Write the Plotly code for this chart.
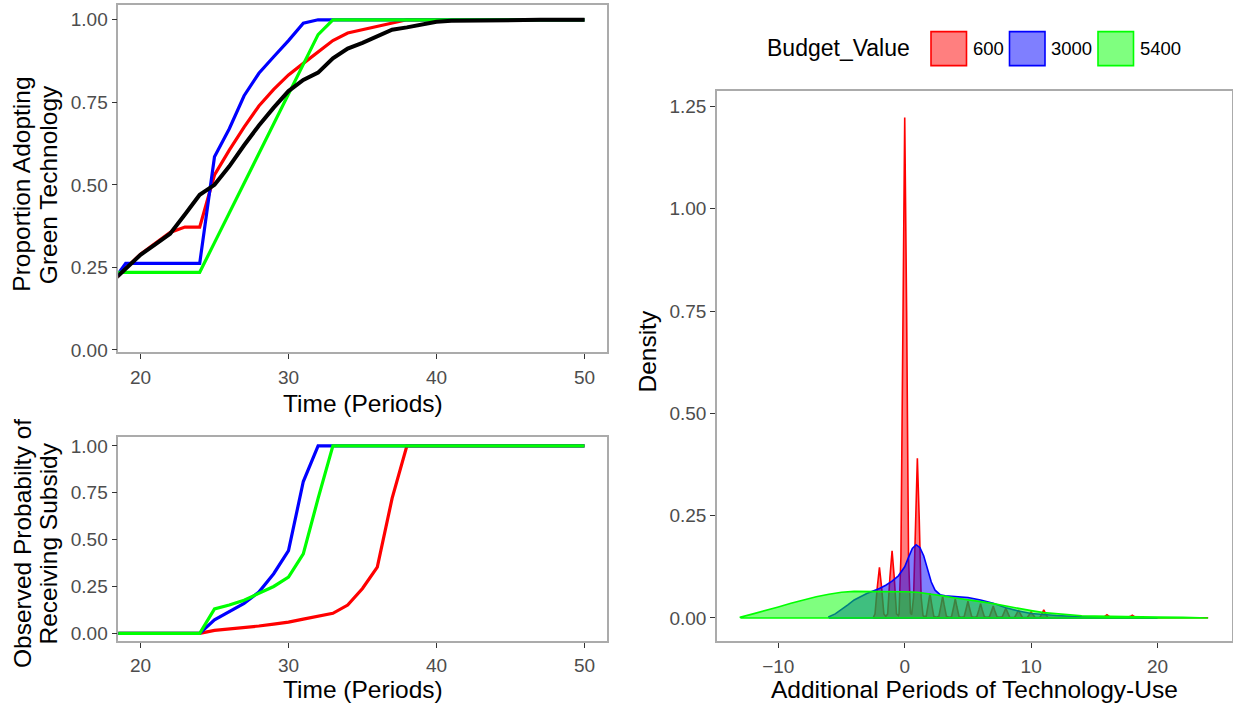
import plotly.graph_objects as go

W, H = 1233, 713

# ---------------- data ----------------
periods = list(range(18, 51))

adopt_all = [0.204, 0.246, 0.288, 0.32, 0.352, 0.41, 0.47, 0.50, 0.556, 0.62, 0.68,
             0.734, 0.784, 0.818, 0.84, 0.883, 0.913, 0.93, 0.95, 0.97, 0.977, 0.987,
             0.994, 0.997, 0.998, 0.999, 0.999, 1, 1, 1, 1, 1, 1]
adopt_600 = [0.204, 0.246, 0.29, 0.323, 0.356, 0.372, 0.372, 0.53, 0.605, 0.675, 0.739,
             0.789, 0.833, 0.868, 0.903, 0.937, 0.96, 0.97, 0.982, 0.992, 1, 1,
             1, 1, 1, 1, 1, 1, 1, 1, 1, 1, 1]
adopt_3000 = [0.20, 0.262, 0.262, 0.262, 0.262, 0.262, 0.262, 0.585, 0.67, 0.77, 0.838,
              0.888, 0.937, 0.99, 1, 1, 1, 1, 1, 1, 1, 1,
              1, 1, 1, 1, 1, 1, 1, 1, 1, 1, 1]
adopt_5400 = [0.235, 0.235, 0.235, 0.235, 0.235, 0.235, 0.235, 0.325, 0.415, 0.505, 0.595,
              0.685, 0.775, 0.865, 0.955, 1, 1, 1, 1, 1, 1, 1,
              1, 1, 1, 1, 1, 1, 1, 1, 1, 1, 1]

subsidy_600 = [0, 0, 0, 0, 0, 0, 0, 0.016, 0.023, 0.03, 0.039,
               0.049, 0.06, 0.076, 0.09, 0.107, 0.151, 0.239, 0.353, 0.72, 1, 1,
               1, 1, 1, 1, 1, 1, 1, 1, 1, 1, 1]
subsidy_3000 = [0, 0, 0, 0, 0, 0, 0, 0.072, 0.116, 0.16, 0.22,
                0.318, 0.441, 0.81, 1, 1, 1, 1, 1, 1, 1, 1,
                1, 1, 1, 1, 1, 1, 1, 1, 1, 1, 1]
subsidy_5400 = [0, 0, 0, 0, 0, 0, 0, 0.13, 0.151, 0.177, 0.213,
                0.25, 0.30, 0.424, 0.72, 1, 1, 1, 1, 1, 1, 1,
                1, 1, 1, 1, 1, 1, 1, 1, 1, 1, 1]

budget_levels = ["600", "3000", "5400"]

dens_600_x = [-2.5, -2.35, -2.17, -2.0, -1.83, -1.65, -1.5,
              -1.35, -1.17, -1.0, -0.83, -0.65, -0.5,
              -0.45, -0.3, -0.15, 0.0, 0.15, 0.3, 0.45, 0.5,
              0.55, 0.7, 0.85, 1.0, 1.15, 1.3, 1.45, 1.5,
              1.7, 1.88, 2.0, 2.12, 2.3, 2.5,
              2.7, 2.88, 3.0, 3.12, 3.3, 3.5,
              3.7, 3.88, 4.0, 4.12, 4.3, 4.5,
              4.7, 4.88, 5.0, 5.12, 5.3, 5.5,
              5.7, 5.88, 6.0, 6.12, 6.3, 6.5,
              6.7, 6.88, 7.0, 7.12, 7.3, 7.5,
              7.7, 7.88, 8.0, 8.12, 8.3, 8.5,
              8.7, 8.88, 9.0, 9.12, 9.3, 9.5,
              9.7, 9.88, 10.0, 10.12, 10.3, 10.5,
              10.7, 10.88, 11.0, 11.12, 11.3, 11.5,
              13.0, 15.5, 15.75, 15.88, 16.0, 16.12, 16.3,
              17.5, 17.75, 17.88, 18.0, 18.12, 18.3, 21.0, 24.0]
dens_600_y = [0.0, 0.01, 0.075, 0.124, 0.075, 0.01, 0.004,
              0.01, 0.1, 0.164, 0.1, 0.01, 0.006,
              0.01, 0.15, 0.75, 1.223, 0.75, 0.15, 0.012, 0.008,
              0.008, 0.05, 0.24, 0.39, 0.24, 0.05, 0.006, 0.004,
              0.004, 0.036, 0.06, 0.036, 0.004, 0.002,
              0.004, 0.032, 0.053, 0.032, 0.004, 0.002,
              0.003, 0.028, 0.047, 0.028, 0.003, 0.002,
              0.003, 0.025, 0.041, 0.025, 0.003, 0.002,
              0.003, 0.021, 0.035, 0.021, 0.003, 0.002,
              0.003, 0.018, 0.029, 0.018, 0.003, 0.002,
              0.002, 0.015, 0.024, 0.015, 0.002, 0.001,
              0.002, 0.012, 0.019, 0.012, 0.002, 0.001,
              0.002, 0.009, 0.015, 0.009, 0.002, 0.001,
              0.002, 0.012, 0.02, 0.012, 0.002, 0.001,
              0.001, 0.001, 0.002, 0.005, 0.008, 0.005, 0.001,
              0.001, 0.002, 0.004, 0.007, 0.004, 0.001, 0.0005, 0.0005]

dens_3000_x = [-6, -5.5, -5, -4.5, -4, -3.5, -3, -2.5, -2, -1.5, -1, -0.5, 0, 0.3, 0.6,
               0.9, 1.2, 1.5, 1.8, 2.1, 2.4, 2.8, 3.2, 4, 5, 6, 7, 8, 9, 10, 11, 12,
               14, 16, 18, 20]
dens_3000_y = [0.003, 0.01, 0.02, 0.032, 0.044, 0.053, 0.06, 0.066, 0.072, 0.08, 0.09,
               0.103, 0.125, 0.148, 0.17, 0.179, 0.172, 0.152, 0.118, 0.088, 0.068,
               0.057, 0.054, 0.053, 0.05, 0.044, 0.036, 0.025, 0.017, 0.011, 0.008,
               0.006, 0.003, 0.002, 0.001, 0.0005]

dens_5400_x = [-13, -12, -11, -10, -9, -8, -7, -6, -5, -4, -3, -2, -1, 0, 1, 2, 3, 4, 5,
               6, 7, 8, 9, 10, 11, 12, 13, 14, 15, 16, 18, 20, 22, 24]
dens_5400_y = [0.002, 0.01, 0.018, 0.027, 0.036, 0.044, 0.052, 0.058, 0.063, 0.065,
               0.065, 0.064, 0.064, 0.064, 0.063, 0.059, 0.054, 0.049, 0.045, 0.04,
               0.035, 0.029, 0.023, 0.018, 0.013, 0.01, 0.0075, 0.0055, 0.0045, 0.0037,
               0.0025, 0.002, 0.0015, 0.001]

# ---------------- styles ----------------
RED, BLUE, GREEN = "#FF0000", "#0000FF", "#00FF00"
FILLS = ["rgba(255,0,0,0.5)", "rgba(0,0,255,0.5)", "rgba(0,255,0,0.5)"]
LINES = [RED, BLUE, GREEN]
FONT = "Liberation Sans, Arial, Helvetica, sans-serif"
TICK_FONT = dict(family=FONT, size=19, color="#4D4D4D")
TITLE_SIZE = 24.5
FRAME = "#ABABAB"


def px(x):
    return x / W


def py(y):
    return 1 - y / H


fig = go.Figure()

# top-left: adoption
for ys, col in zip([adopt_600, adopt_3000, adopt_5400], LINES):
    fig.add_trace(go.Scatter(x=periods, y=ys, mode="lines", line=dict(color=col, width=3.2),
                             xaxis="x", yaxis="y", showlegend=False, hoverinfo="skip"))
fig.add_trace(go.Scatter(x=periods, y=adopt_all, mode="lines", line=dict(color="black", width=4),
                         xaxis="x", yaxis="y", showlegend=False, hoverinfo="skip"))

# bottom-left: subsidy
for ys, col in zip([subsidy_600, subsidy_3000, subsidy_5400], LINES):
    fig.add_trace(go.Scatter(x=periods, y=ys, mode="lines", line=dict(color=col, width=3.2),
                             xaxis="x2", yaxis="y2", showlegend=False, hoverinfo="skip"))

# right: densities (full outline polygon incl. baseline)
for name, xs, ys, fc, lc in zip(budget_levels,
                                [dens_600_x, dens_3000_x, dens_5400_x],
                                [dens_600_y, dens_3000_y, dens_5400_y], FILLS, LINES):
    cx = [xs[0]] + list(xs) + [xs[-1], xs[0]]
    cy = [0] + list(ys) + [0, 0]
    fig.add_trace(go.Scatter(x=cx, y=cy, mode="lines", fill="toself", fillcolor=fc,
                             line=dict(color=lc, width=1.6), name=name,
                             xaxis="x3", yaxis="y3", showlegend=False, hoverinfo="skip"))

ax_common = dict(showgrid=False, zeroline=False, showline=True, mirror=True,
                 linecolor=FRAME, linewidth=1.5, ticks="outside", ticklen=5,
                 tickwidth=1.1, tickcolor="#333333", tickfont=TICK_FONT)
x_common = dict(ticklabelstandoff=2, **ax_common)

fig.update_layout(
    width=W, height=H,
    margin=dict(l=0, r=0, t=0, b=0),
    paper_bgcolor="white", plot_bgcolor="white",
    xaxis=dict(domain=[px(118.3), px(606.7)], range=[18.5, 51.5],
               tickvals=[20, 30, 40, 50], anchor="y", **x_common),
    yaxis=dict(domain=[py(355.7), py(4)], range=[-0.007, 1.045],
               tickvals=[0, 0.25, 0.5, 0.75, 1.0], tickformat=".2f", anchor="x", **ax_common),
    xaxis2=dict(domain=[px(118.3), px(606.7)], range=[18.5, 51.5],
                tickvals=[20, 30, 40, 50], anchor="y2", **x_common),
    yaxis2=dict(domain=[py(648), py(441.7)], range=[-0.04, 1.047],
                tickvals=[0, 0.25, 0.5, 0.75, 1.0], tickformat=".2f", anchor="x2", **ax_common),
    xaxis3=dict(domain=[px(717), px(1231.5)], range=[-14.85, 25.85],
                tickvals=[-10, 0, 10, 20], anchor="y3", **x_common),
    yaxis3=dict(domain=[py(648.5), py(91)], range=[-0.057, 1.288],
                tickvals=[0, 0.25, 0.5, 0.75, 1.0, 1.25], tickformat=".2f", anchor="x3", **ax_common),
)

ann = []


def text(t, x, y, size=TITLE_SIZE, angle=0, xanchor="center", color="black"):
    ann.append(dict(text=t, x=px(x), y=py(y), xref="paper", yref="paper", showarrow=False,
                    xanchor=xanchor, yanchor="middle", textangle=angle,
                    font=dict(family=FONT, size=size, color=color)))


# axis titles
text("Time (Periods)", 362.5, 408)
text("Time (Periods)", 362.5, 697)
text("Additional Periods of Technology-Use", 974, 697)
text("Proportion Adopting", 22, 186, angle=-90)
text("Green Technology", 48.5, 186, angle=-90)
text("Observed Probabilty of", 22, 550, angle=-90)
text("Receiving Subsidy", 48.5, 550, angle=-90)
text("Density", 648, 355, angle=-90)

# legend
text("Budget_Value", 765, 48, size=23, xanchor="left")
shapes = []
box_x = [931, 1009.5, 1098]
lab_x = [970.5, 1049, 1138]
for bx, lx, lab, fc, lc in zip(box_x, lab_x, budget_levels, FILLS, LINES):
    shapes.append(dict(type="rect", xref="paper", yref="paper",
                       x0=px(bx), x1=px(bx + 35.5), y0=py(65.5), y1=py(31),
                       fillcolor=fc, line=dict(color=lc, width=1.6)))
    text(lab, lx, 48, size=18.5, xanchor="left")

fig.update_layout(annotations=ann, shapes=shapes)
fig.write_html("out.html", config={"displayModeBar": False},
               post_script="document.body.style.margin='0';")
